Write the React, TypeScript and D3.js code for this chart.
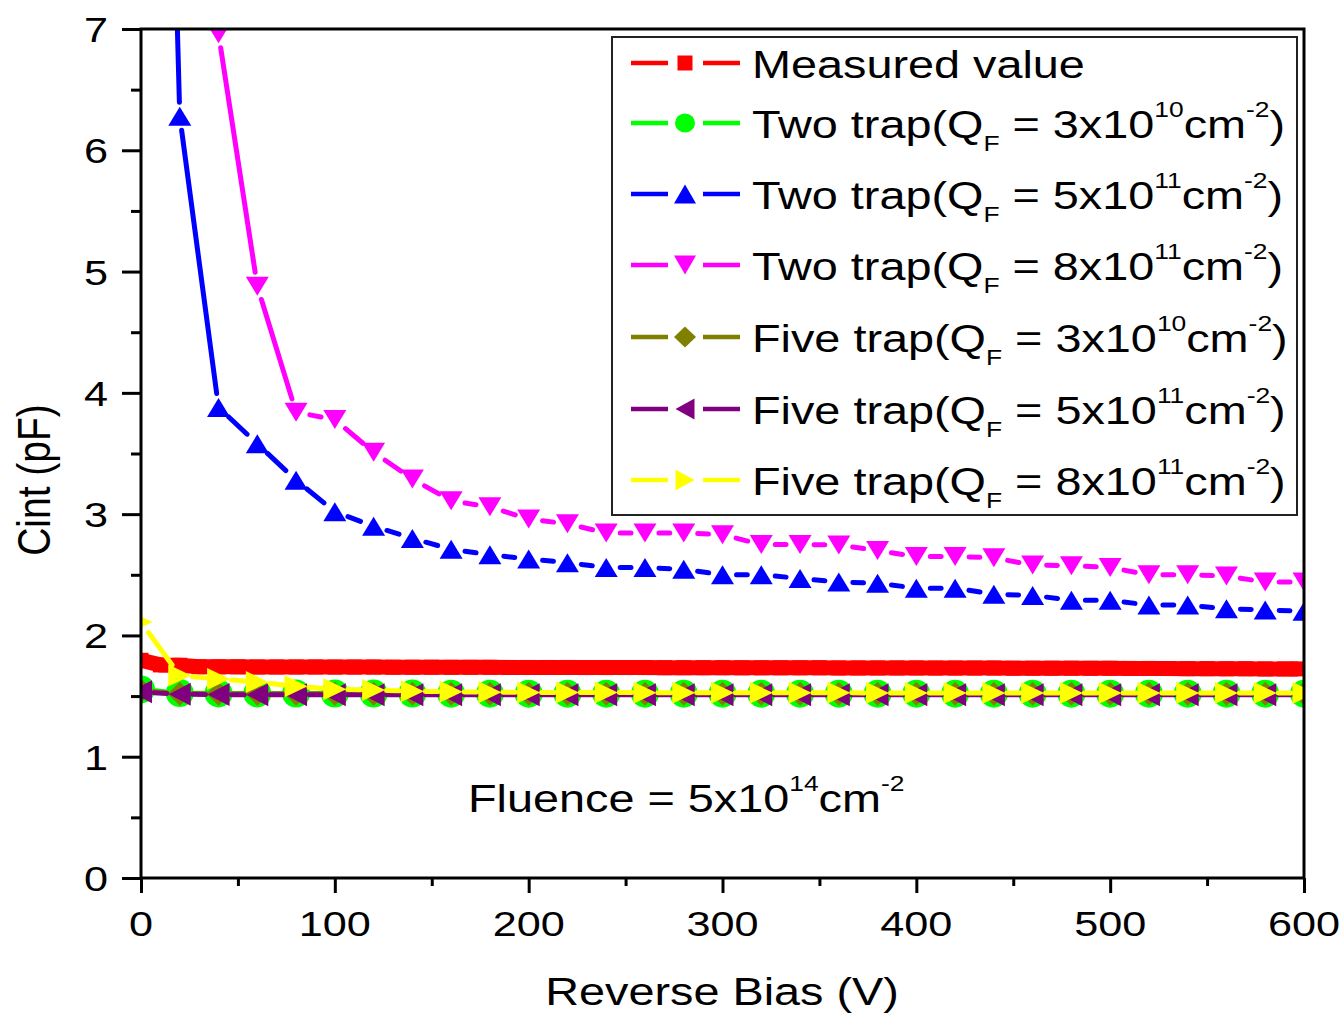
import React, { useRef, useEffect } from "react";
import * as d3 from "d3";

// reverse bias points of the simulated curves (V)
const voltage = [
  0, 20, 40, 60, 80, 100, 120, 140, 160, 180, 200, 220, 240, 260, 280, 300,
  320, 340, 360, 380, 400, 420, 440, 460, 480, 500, 520, 540, 560, 580, 600,
];

// measured curve is much denser
const measuredVoltage = [
  0, 10, 20, 30, 40, 50, 60, 70, 80, 90, 100, 110, 120, 130, 140, 150, 160,
  170, 180, 190, 200, 210, 220, 230, 240, 250, 260, 270, 280, 290, 300, 310,
  320, 330, 340, 350, 360, 370, 380, 390, 400, 410, 420, 430, 440, 450, 460,
  470, 480, 490, 500, 510, 520, 530, 540, 550, 560, 570, 580, 590, 597,
];
const measured = [
  1.795, 1.757, 1.754, 1.742, 1.741, 1.741, 1.74, 1.74, 1.74, 1.74, 1.739,
  1.739, 1.739, 1.738, 1.738, 1.738, 1.737, 1.737, 1.737, 1.736, 1.736, 1.736,
  1.736, 1.735, 1.735, 1.735, 1.735, 1.734, 1.734, 1.734, 1.734, 1.733, 1.733,
  1.733, 1.733, 1.733, 1.732, 1.732, 1.732, 1.732, 1.732, 1.731, 1.731, 1.731,
  1.731, 1.73, 1.73, 1.73, 1.73, 1.729, 1.729, 1.728, 1.728, 1.727, 1.726,
  1.726, 1.725, 1.725, 1.724, 1.724, 1.724,
];

const twoTrap3e10 = [
  1.555, 1.525, 1.522, 1.522, 1.521, 1.521, 1.521, 1.521, 1.52, 1.52, 1.52,
  1.52, 1.52, 1.52, 1.52, 1.52, 1.52, 1.52, 1.52, 1.52, 1.52, 1.52, 1.52, 1.52,
  1.52, 1.52, 1.52, 1.52, 1.52, 1.52, 1.52,
];
const twoTrap5e11 = [
  18, 6.28, 3.88, 3.58, 3.28, 3.02, 2.9, 2.8, 2.71, 2.665, 2.63, 2.6, 2.56,
  2.56, 2.545, 2.5, 2.5, 2.47, 2.44, 2.43, 2.39, 2.39, 2.34, 2.33, 2.29, 2.29,
  2.25, 2.25, 2.22, 2.21, 2.2,
];
const twoTrap8e11 = [
  40, 22, 6.96, 4.88, 3.84, 3.78, 3.51, 3.29, 3.11, 3.06, 2.96, 2.92, 2.845,
  2.845, 2.845, 2.83, 2.75, 2.75, 2.745, 2.7, 2.65, 2.65, 2.64, 2.58, 2.575,
  2.56, 2.5, 2.5, 2.49, 2.44, 2.44,
];
const fiveTrap3e10 = [
  1.545, 1.52, 1.52, 1.52, 1.52, 1.52, 1.52, 1.52, 1.52, 1.52, 1.52, 1.52,
  1.52, 1.52, 1.52, 1.52, 1.52, 1.52, 1.52, 1.52, 1.52, 1.52, 1.52, 1.52, 1.52,
  1.52, 1.52, 1.52, 1.52, 1.52, 1.52,
];
const fiveTrap5e11 = [
  1.535, 1.515, 1.512, 1.511, 1.511, 1.51, 1.51, 1.51, 1.51, 1.51, 1.51, 1.51,
  1.51, 1.51, 1.51, 1.51, 1.51, 1.51, 1.51, 1.51, 1.51, 1.51, 1.51, 1.51, 1.51,
  1.51, 1.51, 1.51, 1.51, 1.51, 1.51,
];
const fiveTrap8e11 = [
  2.11, 1.67, 1.64, 1.615, 1.58, 1.556, 1.55, 1.54, 1.535, 1.532, 1.53, 1.53,
  1.53, 1.528, 1.528, 1.527, 1.527, 1.527, 1.527, 1.526, 1.526, 1.526, 1.526,
  1.526, 1.526, 1.526, 1.526, 1.526, 1.526, 1.526, 1.525,
];

const xTicks = [0, 100, 200, 300, 400, 500, 600];
const xMinorTicks = [50, 150, 250, 350, 450, 550];
const yTicks = [0, 1, 2, 3, 4, 5, 6, 7];
const yMinorTicks = [0.5, 1.5, 2.5, 3.5, 4.5, 5.5, 6.5];

const legendNames = [
  "Measured value",
  "Two trap",
  "Two trap",
  "Two trap",
  "Five trap",
  "Five trap",
  "Five trap",
];
const legendCoef = ["", "3", "5", "8", "3", "5", "8"];
const legendExp = ["", "10", "11", "11", "10", "11", "11"];

const FONT = "'Liberation Sans', Arial, sans-serif";
const SX = 1.2; // the picture is a bit wider than tall glyph-wise

const plot = { left: 141, right: 1304, top: 29, bottom: 878 };
const x = d3.scaleLinear().domain([0, 600]).range([plot.left, plot.right]);
const y = d3.scaleLinear().domain([0, 7]).range([plot.bottom, plot.top]);

type Shape = "square" | "circle" | "up" | "down" | "diamond" | "left" | "right";

function markerPath(shape: Shape, w: number, h: number) {
  const a = w / 2, b = h / 2;
  switch (shape) {
    case "square":
      return `M${-a},${-b}h${w}v${h}h${-w}Z`;
    case "circle":
      return `M${-a},0a${a},${b} 0 1,0 ${w},0a${a},${b} 0 1,0 ${-w},0Z`;
    case "up":
      return `M0,${-b}L${a},${b}L${-a},${b}Z`;
    case "down":
      return `M0,${b}L${a},${-b}L${-a},${-b}Z`;
    case "diamond":
      return `M0,${-b}L${a},0L0,${b}L${-a},0Z`;
    case "left":
      return `M${-a},0L${a},${-b}L${a},${b}Z`;
    case "right":
      return `M${a},0L${-a},${-b}L${-a},${b}Z`;
  }
}

// segments between points, pulled back from the symbols like Origin does
function gappedPath(pts: [number, number][], gap: number) {
  if (gap === 0) return d3.line()(pts) || "";
  let d = "";
  for (let i = 1; i < pts.length; i++) {
    const [x0, y0] = pts[i - 1];
    const [x1, y1] = pts[i];
    const len = Math.hypot(x1 - x0, y1 - y0);
    if (len <= gap * 2 + 1) continue;
    const ux = (x1 - x0) / len, uy = (y1 - y0) / len;
    d += `M${x0 + ux * gap},${y0 + uy * gap}L${x1 - ux * gap},${y1 - uy * gap}`;
  }
  return d;
}

const series = [
  { xs: measuredVoltage, ys: measured, color: "#ff0000", shape: "square" as Shape, w: 15, h: 15, lw: 15, gap: 0, lw2: 15, lh2: 15 },
  { xs: voltage, ys: twoTrap3e10, color: "#00ff00", shape: "circle" as Shape, w: 28, h: 28, lw: 5, gap: 15, lw2: 20, lh2: 19 },
  { xs: voltage, ys: twoTrap5e11, color: "#0000ff", shape: "up" as Shape, w: 23, h: 19, lw: 5, gap: 14, lw2: 22, lh2: 19 },
  { xs: voltage, ys: twoTrap8e11, color: "#ff00ff", shape: "down" as Shape, w: 23, h: 19, lw: 5, gap: 14, lw2: 22, lh2: 19 },
  { xs: voltage, ys: fiveTrap3e10, color: "#808000", shape: "diamond" as Shape, w: 24, h: 24, lw: 5, gap: 13, lw2: 22, lh2: 21 },
  { xs: voltage, ys: fiveTrap5e11, color: "#800080", shape: "left" as Shape, w: 22, h: 23, lw: 5, gap: 13, lw2: 19, lh2: 21 },
  { xs: voltage, ys: fiveTrap8e11, color: "#ffff00", shape: "right" as Shape, w: 23, h: 22, lw: 5, gap: 13, lw2: 19, lh2: 21 },
];

const legendRows = [63, 123, 194, 265, 337, 409, 480];

function STxt(props: { x: number; y: number; size: number; anchor?: string; children: React.ReactNode }) {
  return (
    <text
      transform={`translate(${props.x},${props.y}) scale(${SX},1)`}
      fontSize={props.size}
      fontFamily={FONT}
      textAnchor={props.anchor || "start"}
      fill="#000"
    >
      {props.children}
    </text>
  );
}

export default function App() {
  const xAxisRef = useRef<SVGGElement>(null);
  const yAxisRef = useRef<SVGGElement>(null);

  useEffect(() => {
    const gx = d3.select(xAxisRef.current!);
    gx.selectAll("*").remove();
    gx.append("g").call(
      d3.axisBottom(x).tickValues(xTicks).tickSize(15).tickSizeOuter(0).tickFormat(() => "")
    );
    gx.append("g").call(
      d3.axisBottom(x).tickValues(xMinorTicks).tickSize(8).tickSizeOuter(0).tickFormat(() => "")
    );
    gx.selectAll(".domain").remove();
    gx.selectAll("text").remove();
    gx.selectAll("line").attr("stroke", "#000").attr("stroke-width", 3);

    const gy = d3.select(yAxisRef.current!);
    gy.selectAll("*").remove();
    gy.append("g").call(
      d3.axisLeft(y).tickValues(yTicks).tickSize(19).tickSizeOuter(0).tickFormat(() => "")
    );
    gy.append("g").call(
      d3.axisLeft(y).tickValues(yMinorTicks).tickSize(10).tickSizeOuter(0).tickFormat(() => "")
    );
    gy.selectAll(".domain").remove();
    gy.selectAll("text").remove();
    gy.selectAll("line").attr("stroke", "#000").attr("stroke-width", 3);
  }, []);

  return (
    <svg
      width={1343}
      height={1013}
      style={{ position: "absolute", left: 0, top: 0, background: "#fff" }}
    >
      <defs>
        <clipPath id="plotClip">
          <rect x={plot.left} y={plot.top} width={plot.right - plot.left} height={plot.bottom - plot.top} />
        </clipPath>
      </defs>
      <rect width={1343} height={1013} fill="#fff" />

      <g clipPath="url(#plotClip)">
        {series.map((s, i) => {
          const pts = s.xs.map((v, j) => [x(v), y(s.ys[j])] as [number, number]);
          return (
            <g key={i}>
              <path
                d={gappedPath(pts, s.gap)}
                fill="none"
                stroke={s.color}
                strokeWidth={s.lw}
                strokeLinecap={s.gap === 0 ? "butt" : "round"}
              />
              {pts.map((p, j) => (
                <path
                  key={j}
                  d={markerPath(s.shape, s.w, s.h)}
                  transform={`translate(${p[0]},${p[1]})`}
                  fill={s.color}
                />
              ))}
            </g>
          );
        })}
      </g>

      {/* axes frame */}
      <g ref={xAxisRef} transform={`translate(0,${plot.bottom})`} />
      <g ref={yAxisRef} transform={`translate(${plot.left},0)`} />
      <rect
        x={plot.left}
        y={plot.top}
        width={plot.right - plot.left}
        height={plot.bottom - plot.top}
        fill="none"
        stroke="#000"
        strokeWidth={3}
      />

      {yTicks.map((t) => (
        <STxt key={t} x={108} y={y(t) + 13} size={36} anchor="end">
          {t}
        </STxt>
      ))}
      {xTicks.map((t) => (
        <STxt key={t} x={x(t)} y={936} size={36} anchor="middle">
          {t}
        </STxt>
      ))}

      <STxt x={722} y={1005} size={39} anchor="middle">
        Reverse Bias (V)
      </STxt>
      <text
        transform={`translate(50,480) scale(${SX},1) rotate(-90)`}
        fontSize={39}
        fontFamily={FONT}
        textAnchor="middle"
      >
        Cint (pF)
      </text>

      <STxt x={468} y={812} size={39}>
        {"Fluence = 5x10"}
        <tspan fontSize={22} dy={-21}>14</tspan>
        <tspan dy={21}>cm</tspan>
        <tspan fontSize={22} dy={-21}>-2</tspan>
      </STxt>

      {/* legend */}
      <rect x={612} y={37} width={685} height={478} fill="#fff" stroke="#222" strokeWidth={2} />
      {series.map((s, i) => {
        const ry = legendRows[i];
        return (
          <g key={i}>
            <line x1={631} x2={668} y1={ry} y2={ry} stroke={s.color} strokeWidth={4.5} />
            <line x1={703} x2={740} y1={ry} y2={ry} stroke={s.color} strokeWidth={4.5} />
            <path d={markerPath(s.shape, s.lw2, s.lh2)} transform={`translate(685,${ry})`} fill={s.color} />
            {i === 0 ? (
              <STxt x={752} y={ry + 15} size={39}>
                {legendNames[i]}
              </STxt>
            ) : (
              <STxt x={752} y={ry + 15} size={39}>
                {legendNames[i] + "(Q"}
                <tspan fontSize={22} dy={13}>F</tspan>
                <tspan dy={-13}>{" = " + legendCoef[i] + "x10"}</tspan>
                <tspan fontSize={22} dy={-21}>{legendExp[i]}</tspan>
                <tspan dy={21}>cm</tspan>
                <tspan fontSize={22} dy={-21}>-2</tspan>
                <tspan dy={21}>)</tspan>
              </STxt>
            )}
          </g>
        );
      })}
    </svg>
  );
}
